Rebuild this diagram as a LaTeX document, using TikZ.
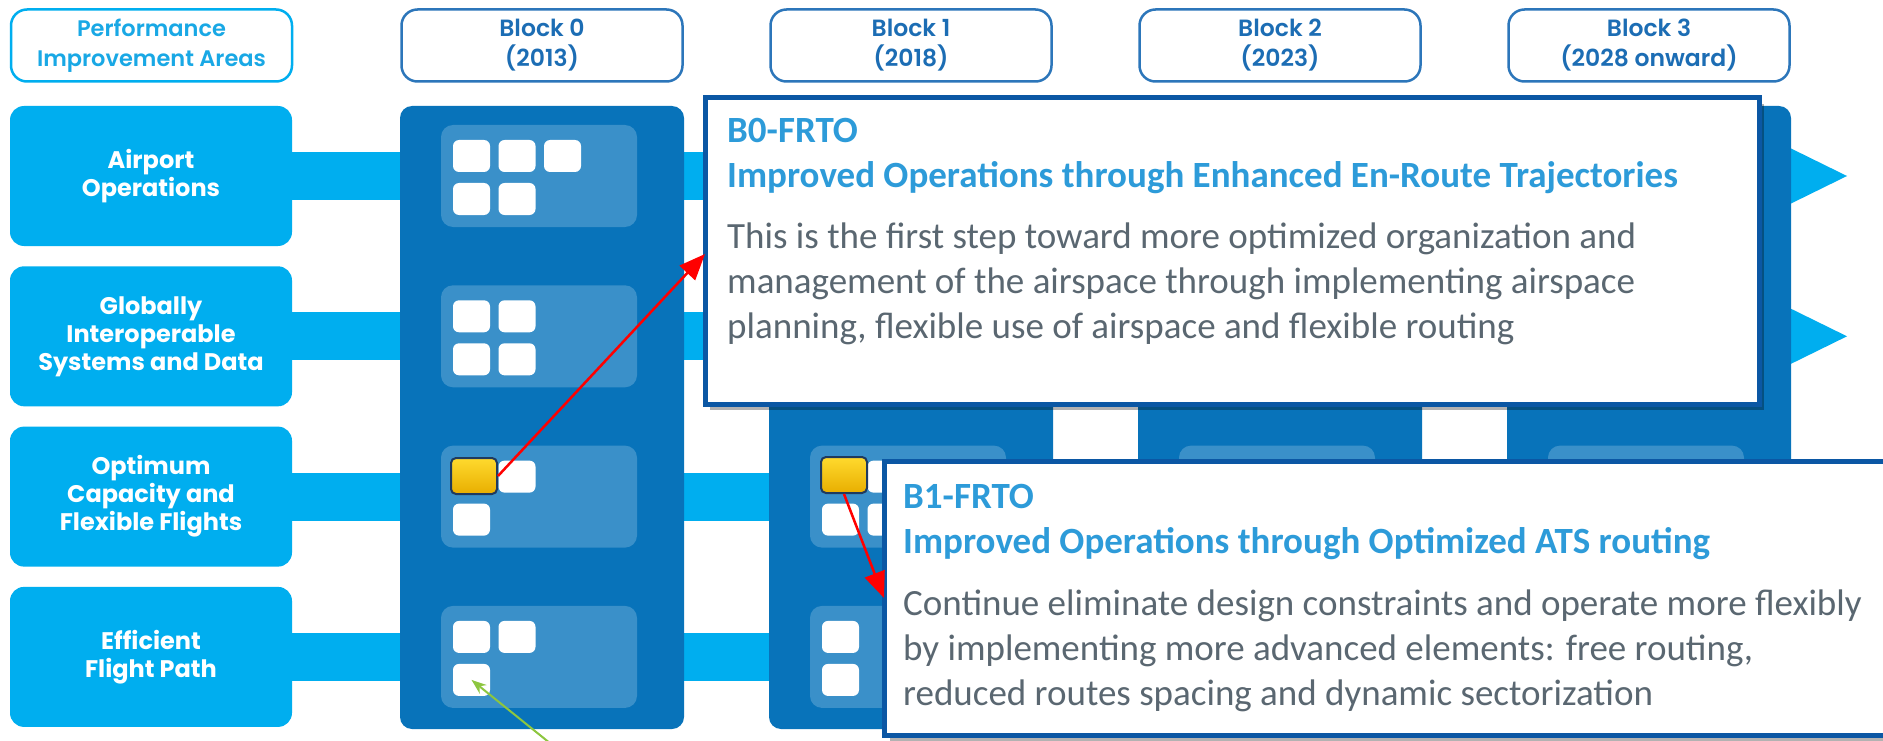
\documentclass[tikz,border=0pt]{standalone}
\usepackage{fontspec}
\setmainfont{Carlito}
\newfontfamily\gfont{Poppins}
\newfontfamily\gfontsb{Poppins SemiBold}
\usetikzlibrary{arrows.meta,shadows}
\definecolor{cyanb}{HTML}{00AEEF}
\definecolor{colb}{HTML}{0873BA}
\definecolor{panelb}{HTML}{3A90C9}
\definecolor{hdrb}{HTML}{2C76BA}
\definecolor{hdrtxt}{HTML}{1C6DB4}
\definecolor{piatxt}{HTML}{19A8E5}
\definecolor{callb}{HTML}{0B57A4}
\definecolor{titleb}{HTML}{2D9BD9}
\definecolor{bodyg}{HTML}{5A6771}
\definecolor{arrowr}{HTML}{FF0000}
\definecolor{arrowg}{HTML}{8DC63F}
\definecolor{yeltop}{HTML}{FFDA2E}
\definecolor{yelbot}{HTML}{E8AE00}
\definecolor{navy}{HTML}{1F3A5F}
\begin{document}
\begin{tikzpicture}[x=1pt,y=-1pt,
  rowbox/.style={fill=cyanb, rounded corners=14pt, minimum width=282pt, minimum height=140pt, inner sep=0pt, text=white, align=center, font=\gfont\bfseries\fontsize{24}{28}\selectfont},
  hdrbox/.style={draw=hdrb, line width=2.5pt, fill=white, rounded corners=16pt, minimum width=281pt, minimum height=72pt, inner sep=0pt, text=hdrtxt, align=center, font=\gfontsb\fontsize{23.5}{30}\selectfont},
  colbox/.style={fill=colb, rounded corners=12pt, minimum width=284pt, minimum height=623pt, inner sep=0pt},
  panel/.style={fill=panelb, rounded corners=12pt, minimum width=196pt, minimum height=102pt, inner sep=0pt},
  wsq/.style={fill=white, rounded corners=6pt, minimum width=37pt, minimum height=32pt, inner sep=0pt},
  ysq/.style={draw=navy, line width=2pt, top color=yeltop, bottom color=yelbot, rounded corners=5pt, minimum width=46pt, minimum height=36pt, inner sep=0pt},
  callout/.style={fill=white, inner sep=0pt, drop shadow={shadow xshift=5pt, shadow yshift=-6pt, fill=black, opacity=0.3}},
  cborder/.style={draw=callb, line width=5pt},
  ttl/.style={anchor=base west, inner sep=0pt, text=titleb, font=\bfseries\fontsize{37}{45}\selectfont},
  body/.style={anchor=base west, inner sep=0pt, text=bodyg, font=\fontsize{37}{45}\selectfont},
  redarr/.style={draw=arrowr, line width=2.5pt, -{Triangle[length=26pt,width=21pt]}},
  greenarr/.style={draw=arrowg, line width=2pt, -{Stealth[length=15pt,width=11pt]}}
]
\useasboundingbox (0,0) rectangle (1883,741);
\clip (0,0) rectangle (1883,741);
\fill[white] (0,0) rectangle (1883,741);

% horizontal bars with end triangles
\foreach \c in {176,336.3,496.6,656.9}{
  \fill[cyanb] (290,\c-24) rectangle (1792,\c+24);
  \fill[cyanb] (1788,\c-29) -- (1847,\c) -- (1788,\c+29) -- cycle;
}

% row labels
\node[rowbox] (r1) at (151,176) {Airport\\Operations};
\node[rowbox] (r2) at (151,336.3) {Globally\\Interoperable\\Systems and Data};
\node[rowbox] (r3) at (151,496.6) {Optimum\\Capacity and\\Flexible Flights};
\node[rowbox] (r4) at (151,656.9) {Efficient\\Flight Path};

% headers
\node[hdrbox, draw=cyanb, text=piatxt, font=\gfontsb\fontsize{22.5}{30}\selectfont] (hpia) at (151.5,45.5) {Performance\\Improvement Areas};
\node[hdrbox] (h0) at (542,45.5) {Block 0\\(2013)};
\node[hdrbox] (h1) at (911,45.5) {Block 1\\(2018)};
\node[hdrbox] (h2) at (1280,45.5) {Block 2\\(2023)};
\node[hdrbox] (h3) at (1649,45.5) {Block 3\\(2028 onward)};

% columns and panels
\foreach \b in {0,1,2,3}{
  \pgfmathsetmacro\cx{542+369*\b}
  \node[colbox] (col\b) at (\cx,417.5) {};
  \foreach \r/\c in {1/176,2/336.3,3/496.6,4/656.9}{
    \pgfmathsetmacro\px{539+369*\b}
    \node[panel] (p-\b-\r) at (\px,\c) {};
  }
}

% white squares
\foreach \b/\r/\i/\j in {0/1/0/0,0/1/0/1,0/1/0/2,0/1/1/0,0/1/1/1,
                         0/2/0/0,0/2/0/1,0/2/1/0,0/2/1/1,
                         0/3/0/1,0/3/1/0,
                         0/4/0/0,0/4/0/1,0/4/1/0,
                         1/3/0/1,1/3/1/0,1/3/1/1,
                         1/4/0/0,1/4/1/0,
                         2/3/0/0,2/3/0/1,3/3/0/0,3/3/0/1}{
  \pgfmathsetmacro\sx{400+369*\b+71.5+45.5*\j}
  \pgfmathsetmacro\sy{176+160.3*(\r-1)-20+43*\i}
  \node[wsq] (s-\b-\r-\i-\j) at (\sx,\sy) {};
}

% yellow squares
\node[ysq] (y0) at (474,476) {};
\node[ysq] (y1) at (844,475) {};

% callouts
\node[callout, cborder, minimum width=1054pt, minimum height=306pt] (c0) at (1232,251) {};
\node[callout, minimum width=1100pt, minimum height=273pt] (c1) at (1435,598.5) {};
\draw[cborder] (c1.north east) -- (c1.north west) -- (c1.south west) -- (c1.south east);

% callout texts
\node[ttl] (c0t1) at (727,143) {B0-FRTO};
\node[ttl] (c0t2) at (727,188) {Improved Operations through Enhanced En-Route Trajectories};
\node[body] (c0b1) at (727,248) {This is the first step toward more optimized organization and};
\node[body] (c0b2) at (727,293) {management of the airspace through implementing airspace};
\node[body] (c0b3) at (727,338) {planning, flexible use of airspace and flexible routing};

\node[ttl] (c1t1) at (903,508) {B1-FRTO};
\node[ttl] (c1t2) at (903,553) {Improved Operations through Optimized ATS routing};
\node[body] (c1b1) at (903,615) {Continue eliminate design constraints and operate more flexibly};
\node[body] (c1b2) at (903,660) {by implementing more advanced elements: free routing,};
\node[body] (c1b3) at (903,705) {reduced routes spacing and dynamic sectorization};

% connectors
\coordinate (tip0) at (705,254);
\coordinate (tip1) at (884,598);
\coordinate (gtail) at (556,748);
\draw[redarr] (y0.east) -- (tip0);
\draw[redarr] (y1.south) -- (tip1);
\draw[greenarr] (gtail) -- (s-0-4-1-0.center);
\end{tikzpicture}
\end{document}
